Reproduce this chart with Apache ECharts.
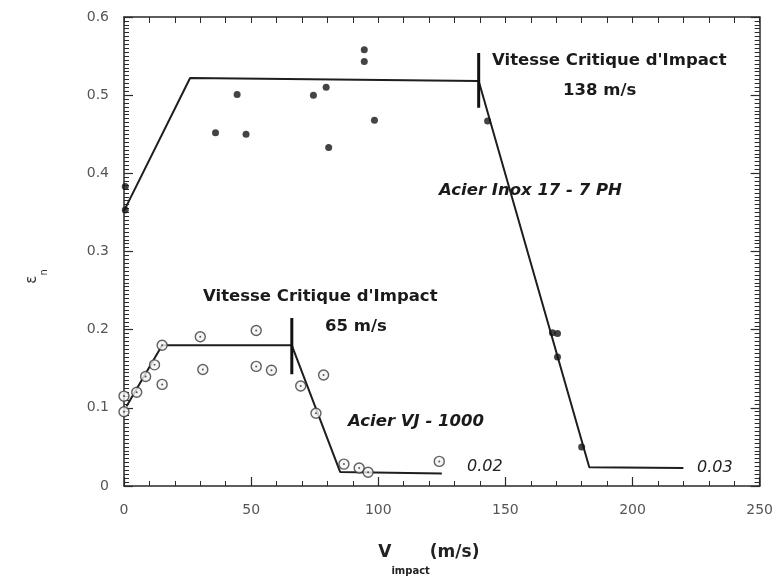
<!DOCTYPE html>
<html>
<head>
<meta charset="utf-8">
<script src="https://cdn.jsdelivr.net/npm/echarts@6/dist/echarts.min.js"></script>
<style>html,body{margin:0;padding:0;background:#fff}#c{width:776px;height:581px}</style>
</head>
<body>
<div id="c"></div>
<script>
// Acier Inox 17-7 PH (filled dots)
var inoxX = [0.5, 0.5, 36, 44.5, 48, 74.5, 79.5, 80.5, 94.5, 94.5, 98.5, 143, 168.5, 170.5, 170.5, 180];
var inoxY = [0.383, 0.353, 0.452, 0.501, 0.450, 0.500, 0.510, 0.433, 0.558, 0.543, 0.468, 0.467, 0.196, 0.195, 0.165, 0.050];
// Acier VJ-1000 (open circles)
var vjX = [0, 0, 5, 8.5, 12, 15, 15, 30, 31, 52, 52, 58, 69.5, 78.5, 75.5, 86.5, 92.5, 96, 124];
var vjY = [0.115, 0.095, 0.120, 0.140, 0.155, 0.180, 0.130, 0.191, 0.149, 0.199, 0.153, 0.148, 0.128, 0.142, 0.093, 0.028, 0.023, 0.0175, 0.0315];
// fitted lines
var inoxFitX = [0, 26, 139.5, 183, 220];
var inoxFitY = [0.352, 0.522, 0.518, 0.024, 0.023];
var vjFitX = [1, 15, 66, 85, 125];
var vjFitY = [0.102, 0.180, 0.180, 0.018, 0.016];
// critical velocity markers
var inoxCritX = [139.5, 139.5];
var inoxCritY = [0.484, 0.554];
var vjCritX = [66, 66];
var vjCritY = [0.143, 0.215];
// axis ticks
var xMin = 0, xMax = 250, xInterval = 50;
var yMin = 0, yMax = 0.6, yInterval = 0.1;

function pairs(xs, ys) { return xs.map(function (x, i) { return [x, ys[i]]; }); }

var WFONT = '"DejaVu Sans", Verdana, sans-serif';
var frame = '#2a2a2a';

var chart = echarts.init(document.getElementById('c'), null, {renderer: 'canvas'});

var baseX = {
  type: 'value', min: xMin, max: xMax, interval: xInterval,
  axisLine: {show: true, onZero: false, lineStyle: {color: frame, width: 1.5}},
  axisTick: {show: true, inside: true, length: 9, lineStyle: {color: frame, width: 1.2}},
  minorTick: {show: true, splitNumber: 5, length: 5, lineStyle: {color: frame, width: 1}},
  splitLine: {show: false}
};
var baseY = {
  type: 'value', min: yMin, max: yMax, interval: yInterval,
  axisLine: {show: true, onZero: false, lineStyle: {color: frame, width: 1.5}},
  axisTick: {show: true, inside: true, length: 9, lineStyle: {color: frame, width: 1.2}},
  minorTick: {show: true, splitNumber: 20, length: 5, lineStyle: {color: frame, width: 1}},
  splitLine: {show: false}
};

var option = {
  backgroundColor: '#ffffff',
  animation: false,
  grid: {left: 124, right: 13, top: 17, bottom: 93, containLabel: false},
  xAxis: [
    Object.assign({}, baseX, {
      position: 'bottom',
      axisLabel: {show: true, color: '#555', fontFamily: WFONT, fontSize: 14, margin: 17},
      name: '{v|V}{s|impact}{u|(m/s)}',
      nameLocation: 'middle', nameGap: 58,
      nameTextStyle: {
        padding: [0, 26, 0, 0],
        rich: {
          v: {fontFamily: WFONT, fontSize: 17, fontWeight: 'bold', color: '#222', verticalAlign: 'top', lineHeight: 32},
          s: {fontFamily: WFONT, fontSize: 10, fontWeight: 'bold', color: '#222', verticalAlign: 'bottom', lineHeight: 32},
          u: {fontFamily: WFONT, fontSize: 17, fontWeight: 'bold', color: '#222', verticalAlign: 'top', lineHeight: 32}
        }
      }
    }),
    Object.assign({}, baseX, {
      position: 'top', interval: 10, axisLabel: {show: false}, minorTick: {show: false},
      axisTick: {show: true, inside: true, length: 6, lineStyle: {color: frame, width: 1}}
    })
  ],
  yAxis: [
    Object.assign({}, baseY, {
      position: 'left',
      axisLabel: {show: true, color: '#555', fontFamily: WFONT, fontSize: 14, margin: 15},
      name: '{e|ε}{s|n}',
      nameLocation: 'middle', nameGap: 75, nameRotate: 90,
      nameTextStyle: {
        padding: [0, 50, 0, 0],
        rich: {
          e: {fontFamily: WFONT, fontSize: 15, color: '#333', verticalAlign: 'top', lineHeight: 24},
          s: {fontFamily: WFONT, fontSize: 10, color: '#333', verticalAlign: 'bottom', lineHeight: 24}
        }
      }
    }),
    Object.assign({}, baseY, {position: 'right', axisLabel: {show: false}})
  ],
  series: [
    {
      type: 'line', data: pairs(inoxFitX, inoxFitY), symbol: 'none',
      lineStyle: {color: '#1e1e1e', width: 2}, z: 3
    },
    {
      type: 'line', data: pairs(vjFitX, vjFitY), symbol: 'none',
      lineStyle: {color: '#1e1e1e', width: 2}, z: 3
    },
    {
      type: 'line', data: pairs(inoxCritX, inoxCritY), symbol: 'none',
      lineStyle: {color: '#111', width: 3}, z: 4
    },
    {
      type: 'line', data: pairs(vjCritX, vjCritY), symbol: 'none',
      lineStyle: {color: '#111', width: 3}, z: 4
    },
    {
      type: 'scatter', data: pairs(inoxX, inoxY), symbol: 'circle', symbolSize: 7,
      itemStyle: {color: '#151515'}, z: 5
    },
    {
      type: 'scatter', data: pairs(vjX, vjY), symbol: 'circle', symbolSize: 10,
      itemStyle: {color: '#f4f4f4', borderColor: '#3a3a3a', borderWidth: 1.4}, z: 5
    },
    {
      type: 'scatter', data: pairs(vjX, vjY), symbol: 'circle', symbolSize: 2,
      itemStyle: {color: '#333'}, z: 6
    }
  ],
  graphic: [
    {type: 'text', left: 492, top: 52, style: {text: "Vitesse Critique d'Impact", font: 'bold 16.5px ' + WFONT, fill: '#1a1a1a'}},
    {type: 'text', left: 563, top: 82, style: {text: '138 m/s', font: 'bold 16.5px ' + WFONT, fill: '#1a1a1a'}},
    {type: 'text', left: 439, top: 182, style: {text: 'Acier Inox 17 - 7 PH', font: 'italic bold 16.5px ' + WFONT, fill: '#1a1a1a'}},
    {type: 'text', left: 203, top: 288, style: {text: "Vitesse Critique d'Impact", font: 'bold 16.5px ' + WFONT, fill: '#1a1a1a'}},
    {type: 'text', left: 325, top: 318, style: {text: '65 m/s', font: 'bold 16.5px ' + WFONT, fill: '#1a1a1a'}},
    {type: 'text', left: 348, top: 413, style: {text: 'Acier VJ - 1000', font: 'italic bold 16.5px ' + WFONT, fill: '#1a1a1a'}},
    {type: 'text', left: 467, top: 459, style: {text: '0.02', font: 'italic 16px ' + WFONT, fill: '#222'}},
    {type: 'text', left: 697, top: 460, style: {text: '0.03', font: 'italic 16px ' + WFONT, fill: '#222'}}
  ]
};
chart.setOption(option);
</script>
</body>
</html>
